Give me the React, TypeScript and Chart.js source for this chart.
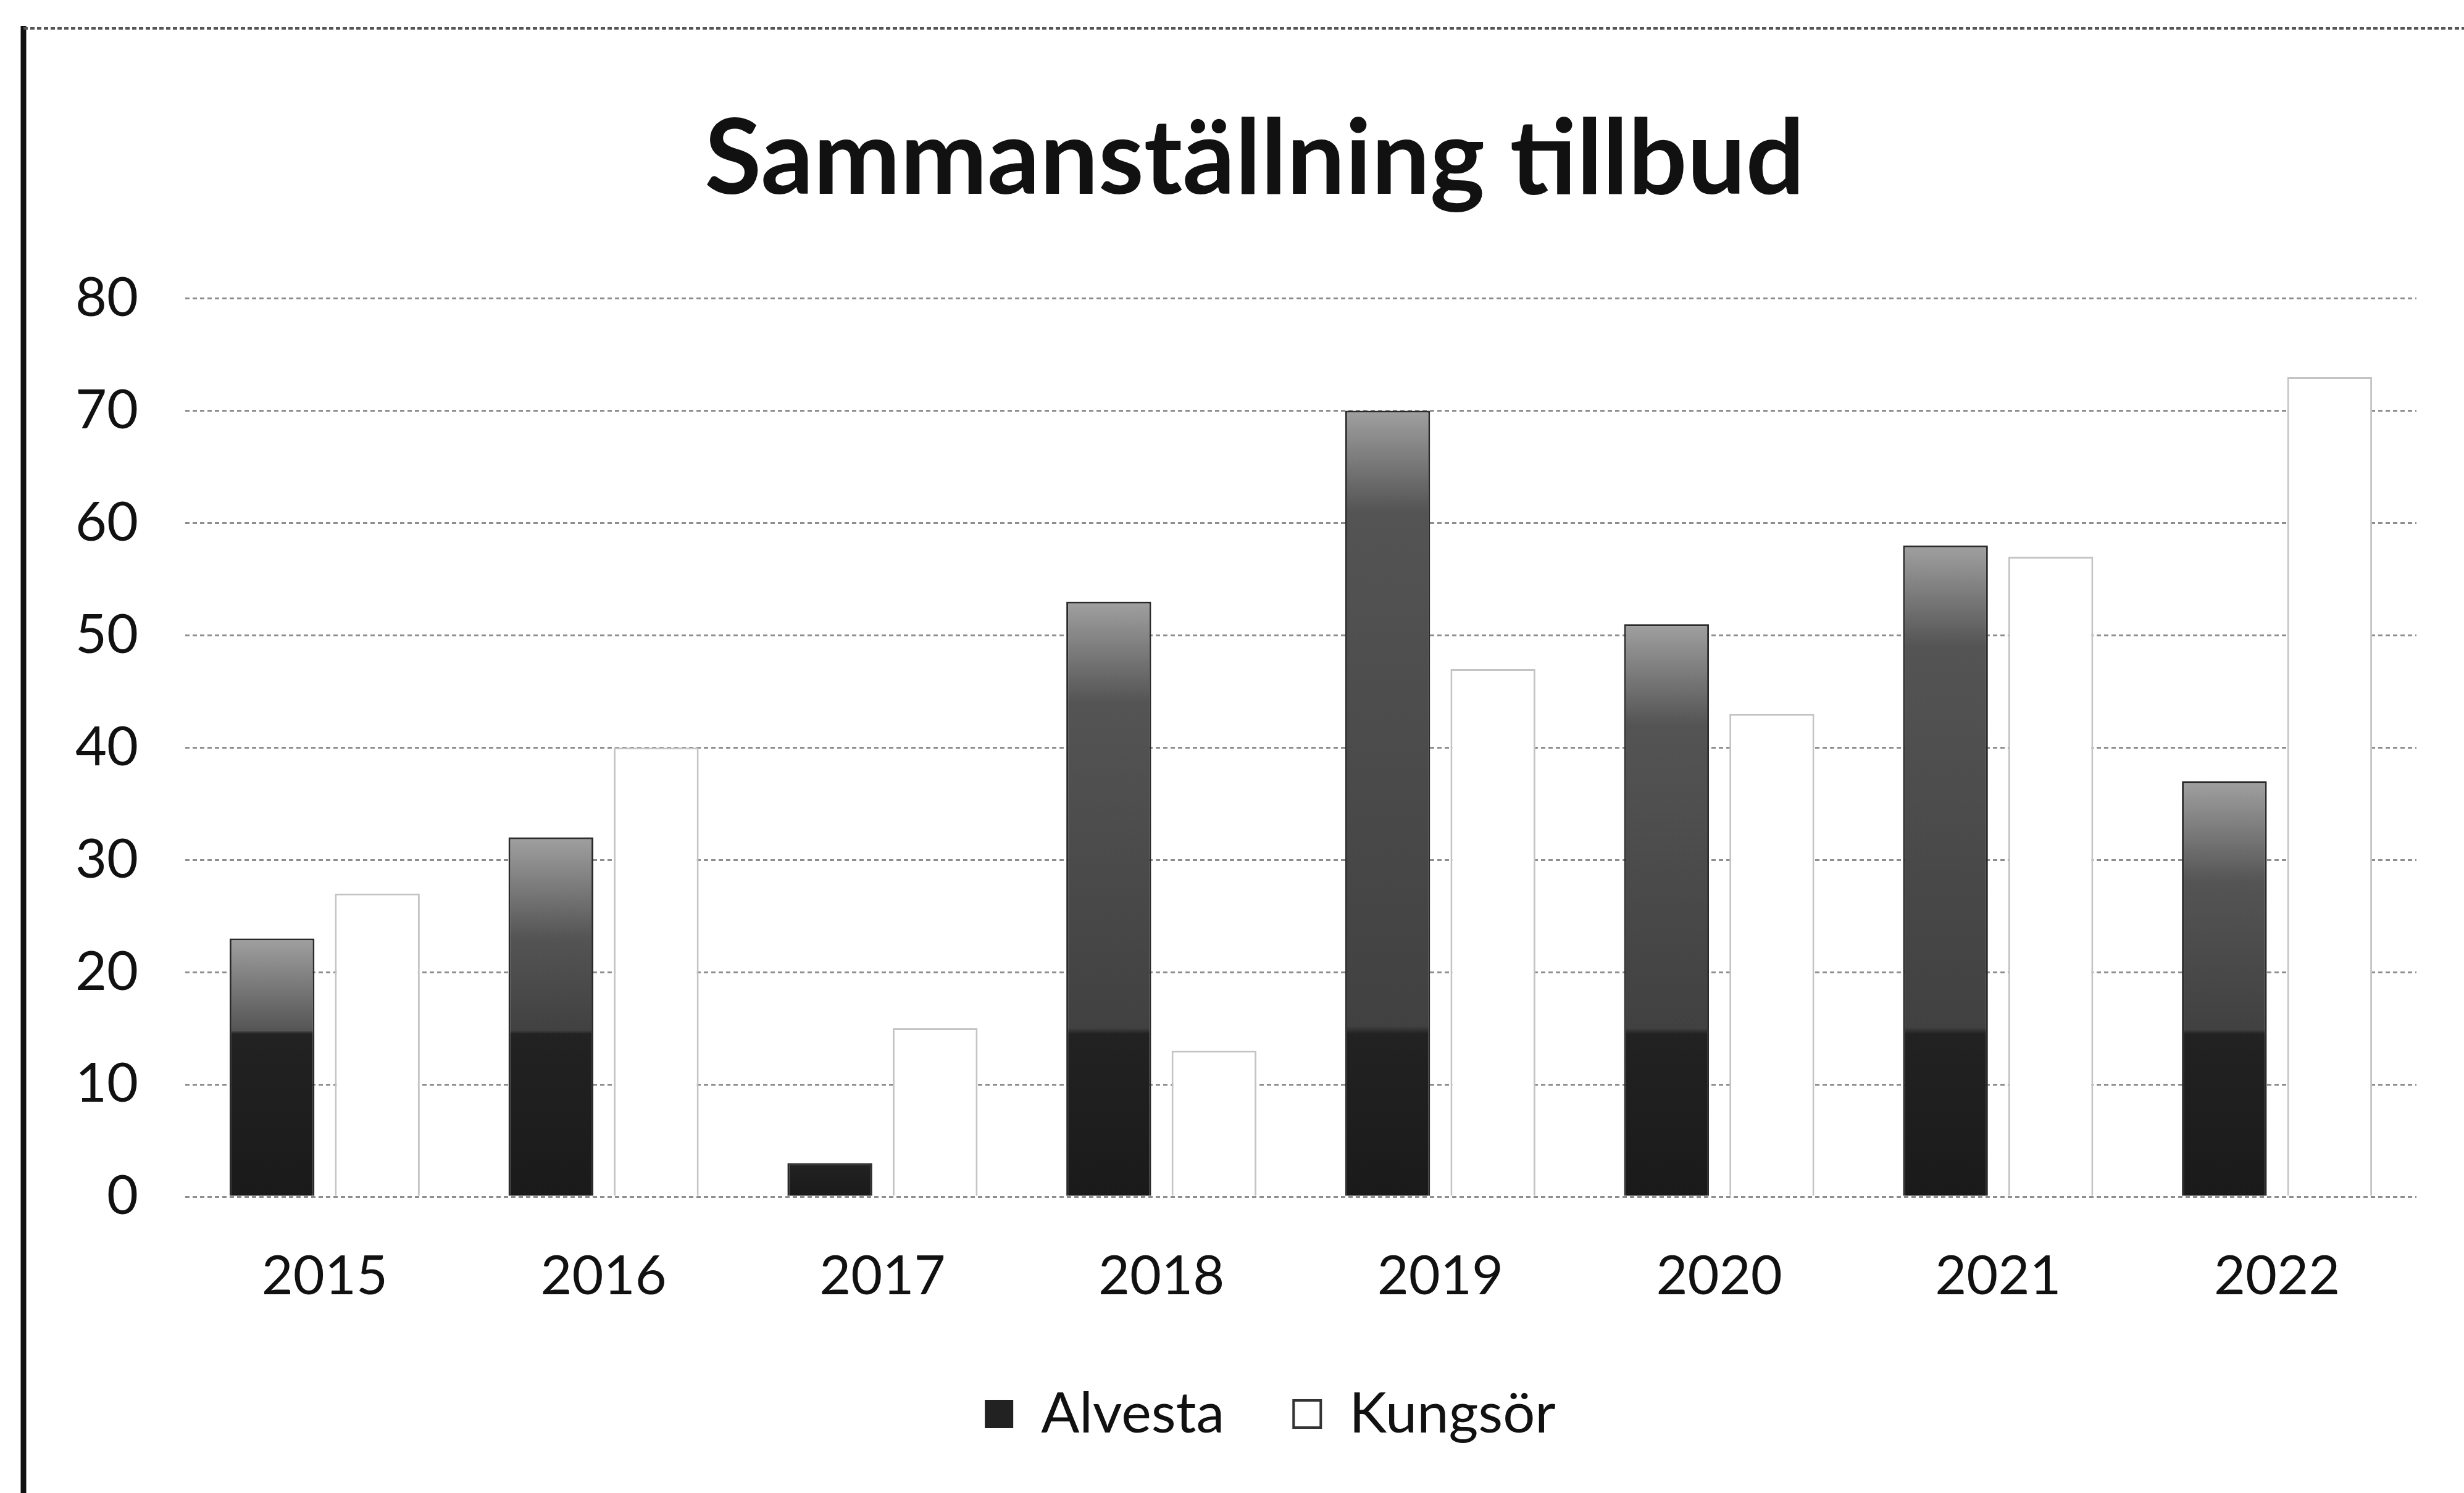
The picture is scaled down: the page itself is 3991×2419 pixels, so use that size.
import React, { useEffect, useRef } from 'react';
import { Chart, registerables } from 'chart.js';

Chart.register(...registerables);

const categories = ['2015', '2016', '2017', '2018', '2019', '2020', '2021', '2022'];
const alvesta = [23, 32, 3, 53, 70, 51, 58, 37];
const kungsor = [27, 40, 15, 13, 47, 43, 57, 73];
const seriesNames = ['Alvesta', 'Kungsör'];
const chartTitle = 'Sammanställning tillbud';
const yMin = 0;
const yMax = 80;
const yStep = 10;

const W = 3991;
const H = 2419;
const FONT = 'Lato, Carlito, "Liberation Sans", sans-serif';

const framePlugin = {
  id: 'frame',
  afterLayout(chart: any) {
    if (chart.legend) {
      chart.legend.left += 41;
      chart.legend.right += 41;
    }
    if (chart.titleBlock) {
      chart.titleBlock.left += 15;
      chart.titleBlock.right += 15;
    }
  },
  beforeDraw(chart: any) {
    const c = chart.ctx;
    c.save();
    c.fillStyle = '#ffffff';
    c.fillRect(0, 0, chart.width, chart.height);
    c.strokeStyle = '#111111';
    c.lineWidth = 9;
    c.beginPath();
    c.moveTo(38, 42);
    c.lineTo(38, chart.height);
    c.stroke();
    c.strokeStyle = '#555555';
    c.lineWidth = 4;
    c.setLineDash([7, 4]);
    c.beginPath();
    c.moveTo(38, 46);
    c.lineTo(chart.width, 46);
    c.stroke();
    c.restore();
  },
};

function alvestaFill(ctx: any) {
  if (ctx.type !== 'data') return '#222222';
  const chart = ctx.chart;
  const y = chart.scales && chart.scales.y;
  const v = ctx.raw as number;
  if (!y || !chart.chartArea || !v) return '#2a2a2a';
  const y0 = y.getPixelForValue(0);
  const yt = y.getPixelForValue(v);
  if (!isFinite(y0) || !isFinite(yt) || y0 === yt) return '#2a2a2a';
  const g = chart.ctx.createLinearGradient(0, y0, 0, yt);
  const f15 = Math.min(1, 14.5 / v);
  g.addColorStop(0, '#1a1a1a');
  g.addColorStop(f15, '#222222');
  if (f15 < 1) {
    const fMid = Math.max(f15 + 0.01, (v - 9) / v);
    g.addColorStop(Math.min(1, f15 + 0.01), '#414141');
    g.addColorStop(Math.min(1, fMid), '#545454');
    g.addColorStop(1, '#a0a0a0');
  } else {
    g.addColorStop(1, '#3a3a3a');
  }
  return g;
}

export default function App() {
  const ref = useRef<HTMLCanvasElement | null>(null);

  useEffect(() => {
    if (!ref.current) return;
    const chart = new Chart(ref.current, {
      type: 'bar',
      data: {
        labels: categories,
        datasets: [
          {
            label: seriesNames[0],
            data: alvesta,
            backgroundColor: alvestaFill as any,
            borderColor: '#2a2a2a',
            borderWidth: 3,
            barPercentage: 0.806,
            categoryPercentage: 0.755,
          },
          {
            label: seriesNames[1],
            data: kungsor,
            backgroundColor: '#ffffff',
            borderColor: '#c4c4c4',
            borderWidth: 3,
            barPercentage: 0.806,
            categoryPercentage: 0.755,
          },
        ],
      },
      options: {
        responsive: false,
        animation: false,
        devicePixelRatio: 1,
        layout: { padding: { left: 120, right: 77, top: 0, bottom: 72 } },
        plugins: {
          title: {
            display: true,
            text: chartTitle,
            color: '#111111',
            font: { family: FONT, size: 168, weight: 'bold', lineHeight: 1.2 },
            padding: { top: 159, bottom: 123 },
          },
          legend: {
            display: true,
            position: 'bottom',
            labels: {
              color: '#111111',
              font: { family: FONT, size: 92, lineHeight: 1.2 },
              boxWidth: 44,
              boxHeight: 44,
              padding: 112,
              generateLabels: (c: any) =>
                (Chart.defaults.plugins.legend.labels as any).generateLabels(c).map((l: any, i: number) =>
                  i === 1
                    ? { ...l, fillStyle: '#ffffff', strokeStyle: '#333333', lineWidth: 4 }
                    : { ...l, fillStyle: '#222222', strokeStyle: '#222222', lineWidth: 2 }
                ),
            },
          },
          tooltip: { enabled: false },
        },
        scales: {
          x: {
            grid: { display: false, drawTicks: false },
            border: { display: false },
            ticks: {
              color: '#111111',
              font: { family: FONT, size: 88, lineHeight: 1.2 },
              padding: 77,
            },
            afterFit: (scale: any) => {
              scale.height = 194;
            },
          },
          y: {
            min: yMin,
            max: yMax,
            grid: { color: '#8e8e8e', lineWidth: 3, drawTicks: false },
            border: { display: false, dash: [7, 5] },
            ticks: {
              stepSize: yStep,
              color: '#111111',
              font: { family: FONT, size: 88, lineHeight: 1.2 },
              padding: 76,
            },
            afterFit: (scale: any) => {
              scale.width = 180;
            },
          },
        },
      },
      plugins: [framePlugin],
    });
    return () => chart.destroy();
  }, []);

  return (
    <div style={{ position: 'fixed', left: 0, top: 0, width: W, height: H, background: '#fff' }}>
      <canvas ref={ref} width={W} height={H} style={{ width: W, height: H, display: 'block' }} />
    </div>
  );
}
